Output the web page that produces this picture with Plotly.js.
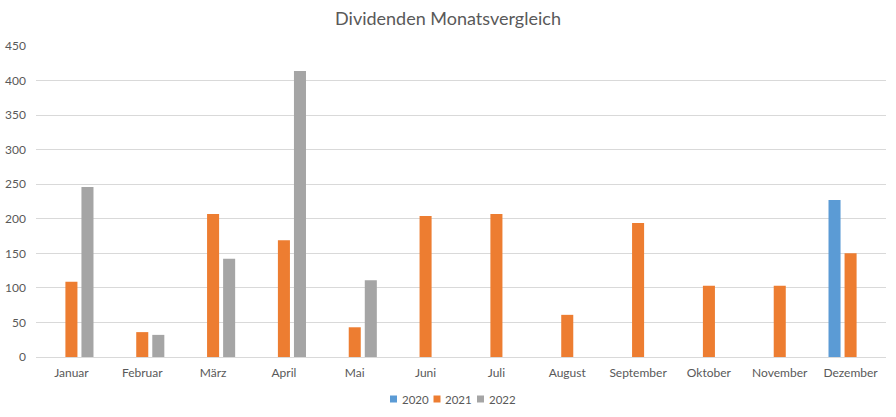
<!DOCTYPE html>
<html>
<head>
<meta charset="utf-8">
<script src="https://cdn.plot.ly/plotly-3.0.1.min.js"></script>
<style>html,body{margin:0;padding:0;background:#fff;}#chart{width:896px;height:417px;}</style>
</head>
<body>
<div id="chart"></div>
<script>
const months = ["Januar","Februar","März","April","Mai","Juni","Juli","August","September","Oktober","November","Dezember"];
const series2020 = [null,null,null,null,null,null,null,null,null,null,null,227];
const series2021 = [109,36,207,169,43,204,207,61,194,103,103,150];
const series2022 = [246,32,142,414,111,null,null,null,null,null,null,null];
const seriesNames = ["2020","2021","2022"];
const colors = ["#5b9bd5","#ed7d31","#a5a5a5"];

const data = [series2020, series2021, series2022].map((vals, i) => ({
  type: "bar",
  name: seriesNames[i],
  x: months,
  y: vals,
  marker: {color: colors[i]},
  hoverinfo: "x+y+name",
  showlegend: false
}));

// custom compact legend (Excel style), positioned in paper coordinates
const W = 896, H = 417, mL = 36, mR = 10, mT = 46, mB = 60;
const pw = W - mL - mR, ph = H - mT - mB;
const px = v => (v - mL) / pw;
const py = v => (H - mB - v) / ph;
const legendStart = 390, legendPitch = 43.5, sq = 7, legendY = 399;
const shapes = [], annotations = [];
seriesNames.forEach((n, i) => {
  const x0 = legendStart + i * legendPitch;
  shapes.push({type: "rect", xref: "paper", yref: "paper",
    x0: px(x0), x1: px(x0 + sq), y0: py(legendY + sq / 2), y1: py(legendY - sq / 2),
    fillcolor: colors[i], line: {width: 0}});
  annotations.push({xref: "paper", yref: "paper", x: px(x0 + sq + 2.5), y: py(legendY),
    xanchor: "left", yanchor: "middle", showarrow: false, text: n,
    font: {size: 11.5, color: "#595959"}});
});

const layout = {
  width: W, height: H,
  margin: {l: mL, r: mR, t: mT, b: mB, autoexpand: false},
  paper_bgcolor: "#fff", plot_bgcolor: "#fff",
  font: {family: "Lato, 'Open Sans', sans-serif", color: "#595959", size: 12},
  title: {text: "Dividenden Monatsvergleich", x: 0.5, xanchor: "center", y: 0.955, yanchor: "middle",
          font: {size: 18, color: "#595959", family: "Lato, 'Open Sans', sans-serif"}},
  barmode: "group",
  bargap: 0.32,
  bargroupgap: 0.25,
  xaxis: {type: "category", showgrid: false, showline: true, linecolor: "#d9d9d9", linewidth: 1,
          ticks: "", ticklabelstandoff: 5, tickfont: {size: 12, color: "#595959"}, fixedrange: true, automargin: false},
  yaxis: {range: [0, 450], dtick: 50, showgrid: true, gridcolor: "#d9d9d9", gridwidth: 1,
          zeroline: true, zerolinecolor: "#d9d9d9", ticks: "", ticklabelstandoff: 9,
          tickfont: {size: 12, color: "#595959"}, fixedrange: true, automargin: false},
  shapes: shapes,
  annotations: annotations,
  showlegend: false
};

Plotly.newPlot("chart", data, layout, {displayModeBar: false, staticPlot: true});
</script>
</body>
</html>
